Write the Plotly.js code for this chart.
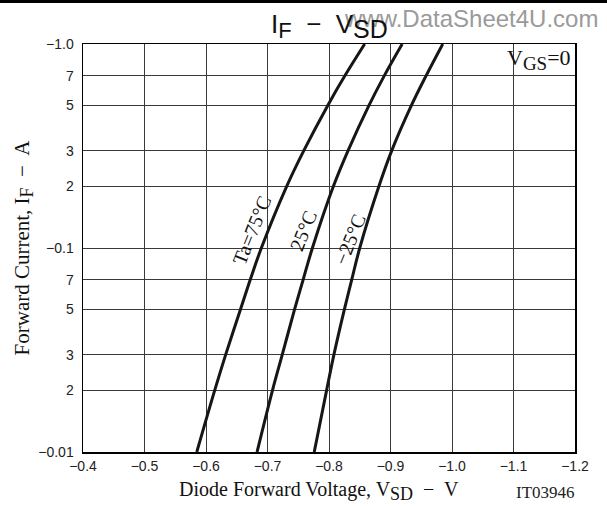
<!DOCTYPE html>
<html>
<head>
<meta charset="utf-8">
<script src="https://cdn.plot.ly/plotly-3.0.1.min.js"></script>
<style>html,body{margin:0;padding:0;background:#fff;}#chart{width:607px;height:506px;}</style>
</head>
<body>
<div id="chart"></div>
<script>
// Forward current magnitudes (A) — sign shown in tick labels
const currentA = [0.01, 0.02, 0.03, 0.05, 0.07, 0.1, 0.2, 0.3, 0.5, 0.7, 1.0];
// Diode forward voltage V_SD (V) for each temperature
const vsd_75  = [-0.585, -0.614, -0.632, -0.656, -0.672, -0.690, -0.731, -0.759, -0.798, -0.826, -0.858];
const vsd_25  = [-0.683, -0.708, -0.724, -0.744, -0.758, -0.773, -0.807, -0.831, -0.865, -0.890, -0.919];
const vsd_m25 = [-0.776, -0.796, -0.808, -0.825, -0.837, -0.850, -0.881, -0.902, -0.934, -0.958, -0.985];
const curveLabels = ["Ta=75°C", "25°C", "−25°C"];
const yTickVals = [0.01, 0.02, 0.03, 0.05, 0.07, 0.1, 0.2, 0.3, 0.5, 0.7, 1.0];
const yTickText = ["−0.01", "2", "3", "5", "7", "−0.1", "2", "3", "5", "7", "−1.0"];
const xTickVals = [-0.4, -0.5, -0.6, -0.7, -0.8, -0.9, -1.0, -1.1, -1.2];

const lineStyle = {color: '#161616', width: 3, shape: 'spline', smoothing: 1};
const series = [vsd_75, vsd_25, vsd_m25];
const traces = series.map((xs, i) => ({
  x: xs, y: currentA, type: 'scatter', mode: 'lines', line: lineStyle,
  name: curveLabels[i], hoverinfo: 'skip'
}));

const serif = 'Liberation Serif, Times New Roman, serif';
const sans = 'Liberation Sans, Arial, sans-serif';

const annotations = [
  {x: -0.675, y: Math.log10(0.122), text: curveLabels[0], textangle: -68, showarrow: false, font: {family: serif, size: 20, color: '#111'}},
  {x: -0.758, y: Math.log10(0.121), text: curveLabels[1], textangle: -68, showarrow: false, font: {family: serif, size: 20, color: '#111'}},
  {x: -0.834, y: Math.log10(0.111), text: curveLabels[2], textangle: -68, showarrow: false, font: {family: serif, size: 20, color: '#111'}},
  {xref: 'paper', yref: 'paper', x: 0.995, y: 0.962, xanchor: 'right', yanchor: 'middle', text: 'V<sub><span style="font-size:19px">GS</span></sub>=0', showarrow: false, font: {family: serif, size: 22, color: '#111'}},
  {xref: 'paper', yref: 'paper', x: 0.789, y: 1.062, xanchor: 'center', yanchor: 'middle', text: 'www.DataSheet4U.com', showarrow: false, font: {family: sans, size: 24, color: '#9a9a9a'}},
  {xref: 'paper', yref: 'paper', x: 0.5, y: 1.045, xanchor: 'center', yanchor: 'middle', text: 'I<sub><span style="font-size:22px">F</span></sub>  −  V<sub><span style="font-size:25px">SD</span></sub>', showarrow: false, font: {family: sans, size: 26, color: '#111'}},
  {xref: 'paper', yref: 'paper', x: 0.48, y: -0.095, xanchor: 'center', yanchor: 'middle', text: 'Diode Forward Voltage, V<sub><span style="font-size:18px">SD</span></sub>  −  V', showarrow: false, font: {family: serif, size: 20, color: '#111'}},
  {xref: 'paper', yref: 'paper', x: 1.005, y: -0.1, xanchor: 'right', yanchor: 'middle', text: 'IT03946', showarrow: false, font: {family: serif, size: 17, color: '#222'}}
];

const layout = {
  width: 607, height: 506,
  margin: {l: 83, r: 32, t: 44, b: 54},
  paper_bgcolor: '#fff', plot_bgcolor: '#fff',
  showlegend: false,
  xaxis: {
    range: [-0.4, -1.2], tickvals: xTickVals, tickformat: '.1f',
    showgrid: true, gridcolor: '#3a3a3a', gridwidth: 1,
    showline: true, mirror: true, linecolor: '#000', linewidth: 1.5,
    zeroline: false, ticks: '', ticklabelstandoff: 1,
    tickfont: {family: sans, size: 14, color: '#222'}
  },
  yaxis: {
    type: 'log', range: [-2, 0], tickvals: yTickVals, ticktext: yTickText,
    showgrid: true, gridcolor: '#3a3a3a', gridwidth: 1,
    showline: true, mirror: true, linecolor: '#000', linewidth: 1.5,
    zeroline: false, ticks: '', ticklabelstandoff: 5,
    tickfont: {family: sans, size: 14, color: '#222'},
    title: {text: 'Forward Current, I<sub><span style="font-size:18px">F</span></sub>  −  A', font: {family: serif, size: 21, color: '#111'}, standoff: 3}
  },
  shapes: [
    {type: 'rect', xref: 'paper', yref: 'paper', x0: -0.2, x1: 1.1, y0: 1 + 41/408, y1: 1 + 45/408, fillcolor: '#000', line: {width: 0}, layer: 'above'},
    {type: 'line', xref: 'paper', yref: 'y', x0: 0, x1: 1, y0: -1, y1: -1, line: {color: '#000', width: 1.2}, layer: 'below'}
  ],
  annotations: annotations
};

Plotly.newPlot('chart', traces, layout, {displayModeBar: false, staticPlot: true});
</script>
</body>
</html>
